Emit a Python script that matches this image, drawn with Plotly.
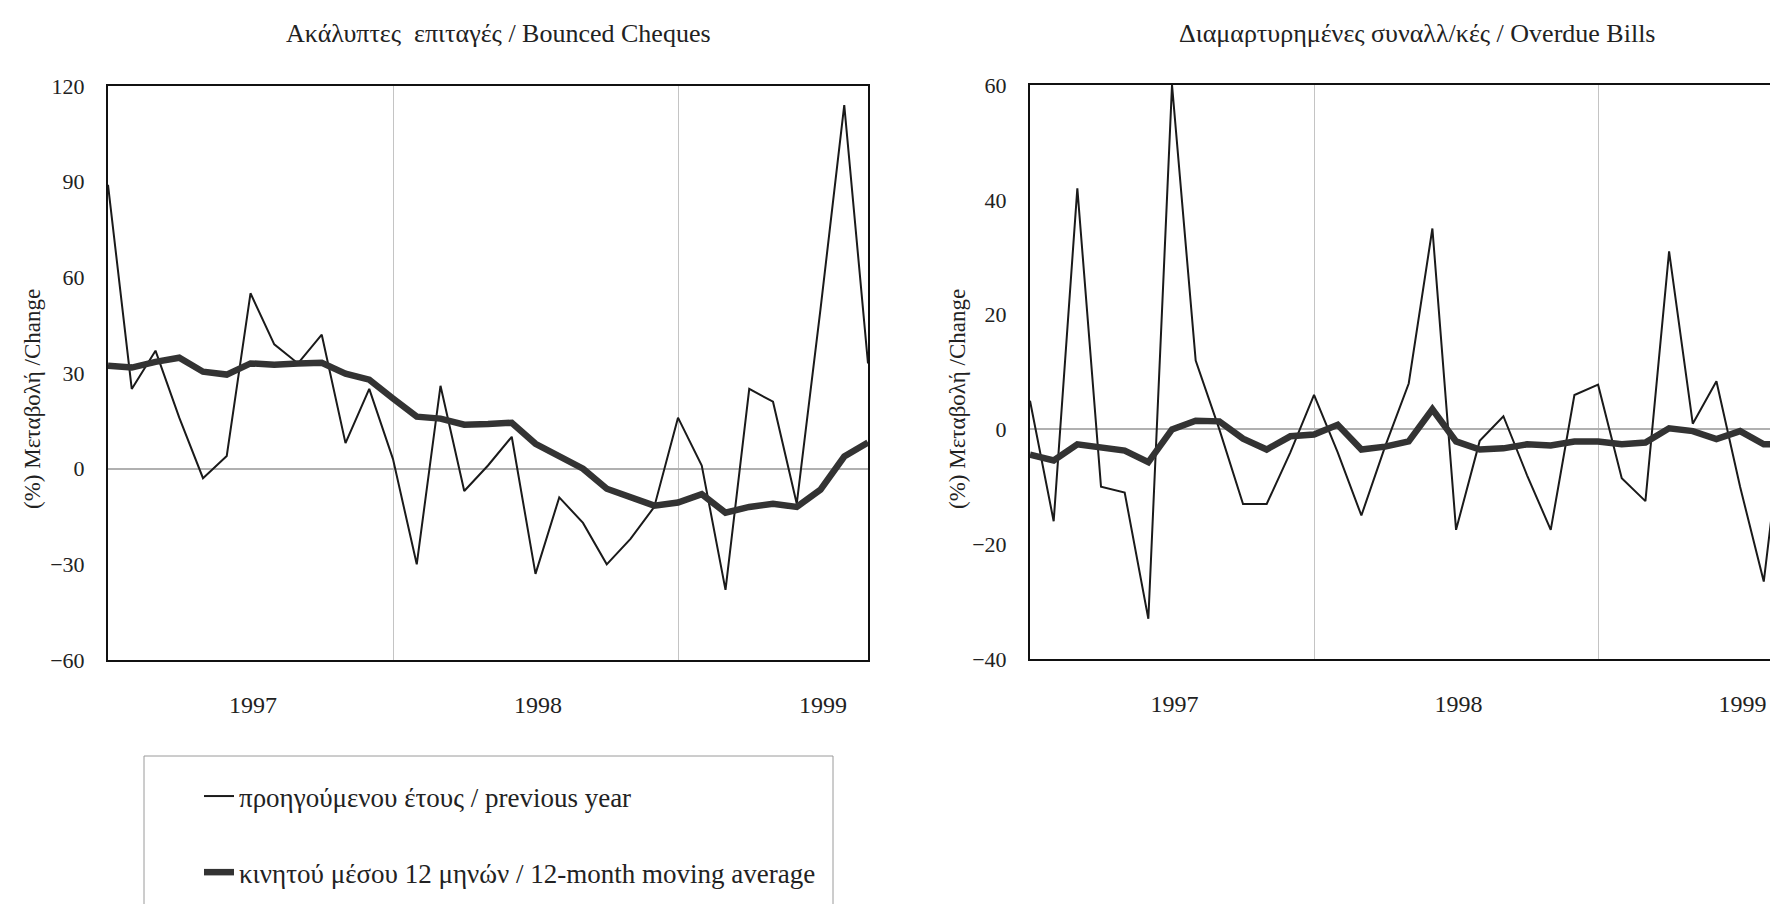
import plotly.graph_objects as go

# months since Jan 1997
months = list(range(33))

# Ακάλυπτες επιταγές / Bounced Cheques (% change)
cheques_yoy = [89, 25, 37, 16, -3, 4, 55, 39, 33, 42, 8, 25,
               3, -30, 26, -7, 1, 10, -33, -9, -17, -30, -22, -12,
               16, 1, -38, 25, 21, -11, 50, 114, 33]
cheques_ma = [32.3, 31.7, 33.5, 34.8, 30.4, 29.5, 33, 32.6, 33, 33.2, 29.8, 27.9,
              22, 16.3, 15.7, 13.8, 14, 14.4, 7.8, 4, 0, -6.3, -9, -11.6,
              -10.6, -8, -13.8, -12, -11, -12, -6.6, 3.8, 8.2]

# Διαμαρτυρημένες συναλλ/κές / Overdue Bills (% change)
bills_yoy = [5, -16, 42, -10, -11, -33, 60, 12, 0, -13, -13, -4,
             6, -4, -15, -3, 8, 35, -17.5, -2, 2.3, -8, -17.5, 6,
             7.8, -8.5, -12.5, 31, 1, 8.4, -10, -26.5, 8]
bills_ma = [-4.4, -5.4, -2.6, -3.1, -3.7, -5.7, 0, 1.5, 1.4, -1.6, -3.5, -1.2,
            -0.9, 0.8, -3.5, -3, -2.1, 3.5, -2.1, -3.5, -3.3, -2.6, -2.8, -2.1,
            -2.1, -2.6, -2.3, 0.2, -0.3, -1.7, -0.3, -2.6, -2.6]

year_pos = [6.1, 18.1, 30.1]
year_text = ["1997", "1998", "1999"]
left_ticks = [-60, -30, 0, 30, 60, 90, 120]
right_ticks = [-40, -20, 0, 20, 40, 60]

W, H = 1778, 904
OFF = 6  # page body offset
FONT = "Liberation Serif"
thin = dict(color="#1a1a1a", width=2)
thick = dict(color="#333333", width=6.5)

fig = go.Figure()

fig.add_trace(go.Scatter(x=months, y=cheques_yoy, mode="lines", line=thin,
                         name="προηγούμενου έτους / previous year",
                         legendgroup="a", xaxis="x", yaxis="y"))
fig.add_trace(go.Scatter(x=months, y=cheques_ma, mode="lines", line=thick,
                         name="κινητού μέσου 12 μηνών / 12-month moving average",
                         legendgroup="b", xaxis="x", yaxis="y"))
fig.add_trace(go.Scatter(x=months, y=bills_yoy, mode="lines", line=thin,
                         showlegend=False, xaxis="x2", yaxis="y2"))
fig.add_trace(go.Scatter(x=months, y=bills_ma, mode="lines", line=thick,
                         showlegend=False, xaxis="x2", yaxis="y2"))

def px(v):
    return (v - OFF) / W

def py(v):
    return (H - (v - OFF)) / H

xcommon = dict(
    tickmode="array", tickvals=year_pos, ticktext=year_text,
    ticks="", showgrid=False, zeroline=False, automargin=False,
    showline=True, linecolor="#111", linewidth=2,
    tickfont=dict(family=FONT, size=24, color="#222"),
    ticklabelstandoff=22,
    minor=dict(tick0=0, dtick=12, showgrid=True, gridcolor="#c4c4c4", gridwidth=1, ticks=""),
)
ycommon = dict(
    tickmode="array", ticks="", showgrid=False, automargin=False,
    zeroline=True, zerolinecolor="#b0b0b0", zerolinewidth=1.5,
    showline=True, linecolor="#111", linewidth=2,
    tickfont=dict(family=FONT, size=22, color="#222"),
    ticklabelstandoff=17,
)

fig.update_layout(
    width=W, height=H,
    margin=dict(l=0, r=0, t=0, b=0),
    paper_bgcolor="white", plot_bgcolor="white",
    font=dict(family=FONT, color="#222"),
    xaxis=dict(xcommon, domain=[px(106), px(866)], range=[0, 32], mirror=True, anchor="y"),
    yaxis=dict(ycommon, domain=[py(658), py(84)], range=[-60, 120],
               tickvals=left_ticks, mirror=True, anchor="x"),
    xaxis2=dict(xcommon, domain=[px(1028), 1.0], range=[0, (W + OFF - 1028) / 23.67],
                mirror=True, anchor="y2"),
    yaxis2=dict(ycommon, domain=[py(657), py(83)], range=[-40, 60],
                tickvals=right_ticks, anchor="x2"),
    showlegend=True,
    legend=dict(
        x=px(197), y=py(770), xanchor="left", yanchor="top",
        bgcolor="rgba(0,0,0,0)", borderwidth=0,
        font=dict(family=FONT, size=27, color="#222"),
        traceorder="grouped", tracegroupgap=38,
    ),
)

annotations = [
    dict(text="Ακάλυπτες  επιταγές / Bounced Cheques", x=px(496), y=py(32), size=26),
    dict(text="Διαμαρτυρημένες συναλλ/κές / Overdue Bills", x=px(1415), y=py(32), size=26),
    dict(text="(%) Μεταβολή /Change", x=px(30), y=py(397), textangle=-90, size=23),
    dict(text="(%) Μεταβολή /Change", x=px(955), y=py(397), textangle=-90, size=23),
]
for a in annotations:
    size = a.pop("size")
    a.update(xref="paper", yref="paper", showarrow=False,
             xanchor="center", yanchor="middle",
             font=dict(family=FONT, size=size, color="#222"))
fig.update_layout(annotations=annotations)

# legend frame (runs off the bottom of the page)
fig.add_shape(type="rect", xref="paper", yref="paper",
              x0=px(142), x1=px(831), y0=-0.1, y1=py(754),
              line=dict(color="#9a9a9a", width=1))

fig.write_html("out.html")
